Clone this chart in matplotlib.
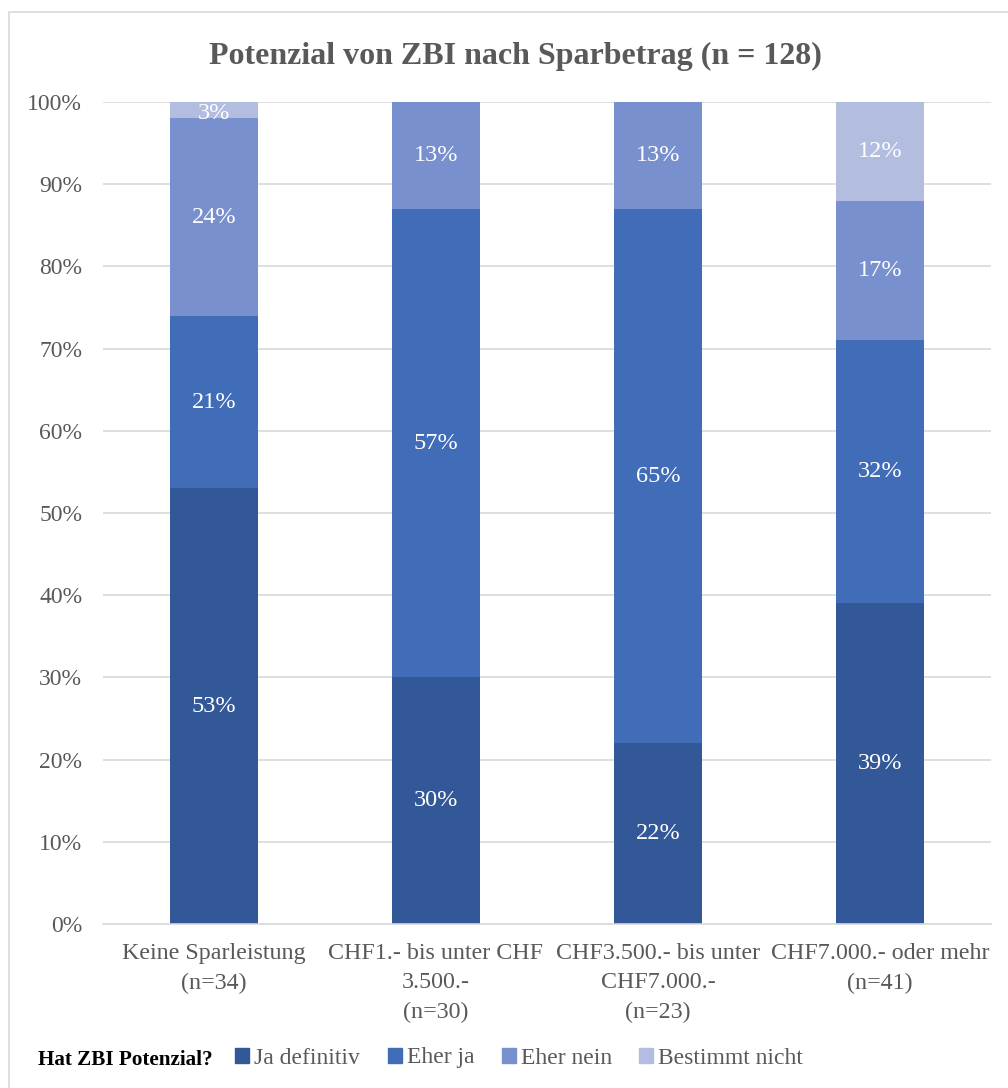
import matplotlib
matplotlib.use("Agg")
import matplotlib.pyplot as plt
from matplotlib.patches import Rectangle
from matplotlib.transforms import offset_copy
import numpy as np

plt.rcParams['font.family'] = ['Liberation Serif', 'DejaVu Serif']

categories = [
    "Keine Sparleistung\n(n=34)",
    "CHF1.- bis unter CHF\n3.500.-\n(n=30)",
    "CHF3.500.- bis unter\nCHF7.000.-\n(n=23)",
    "CHF7.000.- oder mehr\n(n=41)",
]
series_names = ["Ja definitiv", "Eher ja", "Eher nein", "Bestimmt nicht"]
ja_definitiv = [53, 30, 22, 39]
eher_ja = [21, 57, 65, 32]
eher_nein = [24, 13, 13, 17]
bestimmt_nicht = [3, 0, 0, 12]
yticks = [0, 10, 20, 30, 40, 50, 60, 70, 80, 90, 100]

series = [ja_definitiv, eher_ja, eher_nein, bestimmt_nicht]
colors = ["#335898", "#406CB8", "#7891CE", "#B2BDE0"]
gray = "#595959"

fig = plt.figure(figsize=(10.08, 10.88), dpi=100)
# Chart frame
fig.add_artist(Rectangle((9 / 1008, -0.01), 1.02, 1 - 12 / 1088 + 0.01,
                         transform=fig.transFigure, fill=False,
                         edgecolor="#D9D9D9", linewidth=1.2))

ax = fig.add_axes([103 / 1008, 1 - 924 / 1088, 888 / 1008, (924 - 102) / 1088])
x = np.arange(len(categories))
bottom = np.zeros(len(categories))
label_size = 17.5
for name, vals, col in zip(series_names, series, colors):
    vals = np.array(vals, dtype=float)
    ax.bar(x, vals, width=0.4, bottom=bottom, color=col, label=name,
           zorder=2, clip_on=True)
    for xi, b, v in zip(x, bottom, vals):
        if v <= 0:
            continue
        if b + v > 100:
            # segment runs past the axis top: keep its label inside the plot
            ax.text(xi, 100, f"{int(v)}%", ha="center", va="top",
                    color="white", fontsize=label_size, zorder=3,
                    transform=offset_copy(ax.transData, fig=fig, y=-1,
                                          units="points"))
        else:
            ax.text(xi, b + v / 2, f"{int(v)}%", ha="center", va="center",
                    color="white", fontsize=label_size, zorder=3)
    bottom = bottom + vals

ax.set_xlim(-0.5, len(categories) - 0.5)
ax.set_ylim(0, 100)
ax.set_yticks(yticks)
ax.set_yticklabels([f"{t}%" for t in yticks], color=gray, fontsize=17)
ax.set_xticks(x)
ax.set_xticklabels(categories, color=gray, fontsize=17.3, linespacing=1.5)
ax.tick_params(axis="both", length=0)
ax.tick_params(axis="y", pad=15)
ax.tick_params(axis="x", pad=14)
ax.yaxis.grid(True, color="#D9D9D9", linewidth=1.2, zorder=0)
ax.set_axisbelow(True)
for s in ["top", "right", "left"]:
    ax.spines[s].set_visible(False)
ax.spines["bottom"].set_color("#D9D9D9")
ax.spines["bottom"].set_linewidth(1.2)

fig.text(515 / 1008, 1 - 56 / 1088, "Potenzial von ZBI nach Sparbetrag (n = 128)",
         ha="center", va="center", fontsize=23, fontweight="bold", color=gray)

fig.text(38 / 1008, 1 - 1060 / 1088, "Hat ZBI Potenzial?", ha="left",
         va="center", fontsize=15.2, fontweight="bold", color="black")
handles = [Rectangle((0, 0), 1, 1, color=c) for c in colors]
leg = fig.legend(handles, series_names, loc="center left",
                 bbox_to_anchor=(214 / 1008, 1 - 1058 / 1088), ncol=4,
                 frameon=False, fontsize=17, handlelength=0.6,
                 handleheight=0.6, handletextpad=0.2, columnspacing=1.17,
                 labelcolor=gray)

fig.savefig("out.png", dpi=100)
